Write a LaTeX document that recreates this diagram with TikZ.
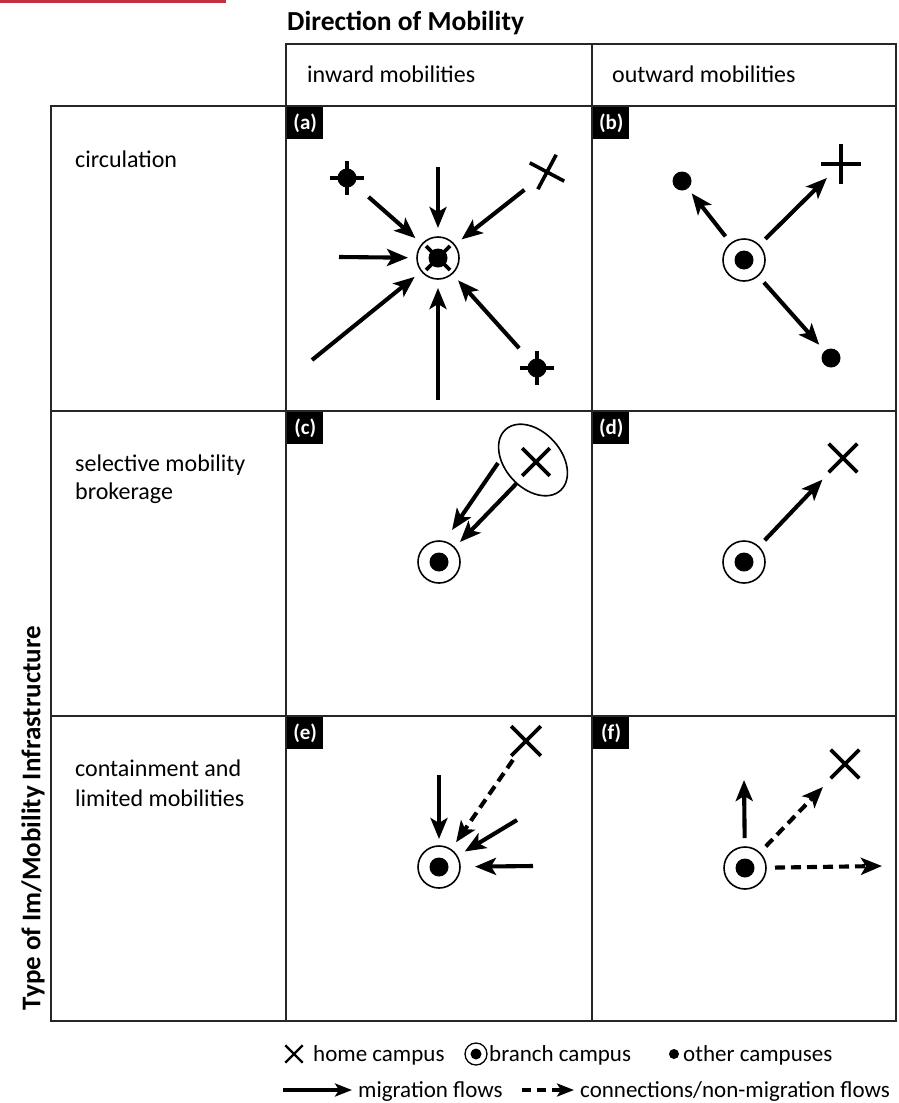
\documentclass[tikz,border=0pt]{standalone}
\usepackage{fontspec}
\setmainfont{Carlito}
\usetikzlibrary{arrows.meta,shapes.geometric,shapes.misc}
\definecolor{banner}{HTML}{C03242}
\newcommand\bodyfont{\fontsize{24}{28}\selectfont}
\newcommand\legfont{\fontsize{23}{26}\selectfont}
\begin{document}
\begin{tikzpicture}[x=1pt,y=-1pt,
  gridline/.style={line width=1.8pt, draw=black!85},
  mig/.style={line width=4.1pt, -{Stealth[length=21pt,width=17pt,inset=5pt]}},
  con/.style={mig, dash pattern=on 10pt off 6pt},
  legmig/.style={line width=3.2pt, -{Stealth[length=17pt,width=13pt,inset=4pt]}},
  legcon/.style={legmig, dash pattern=on 9pt off 6pt},
  branch/.style={circle, draw, line width=1.6pt, minimum size=42pt, inner sep=0pt, outer sep=9pt,
    path picture={\fill (path picture bounding box.center) circle (9.5pt);}},
  smallbranch/.style={circle, draw, line width=1.3pt, minimum size=22pt, inner sep=0pt,
    path picture={\fill (path picture bounding box.center) circle (5.5pt);}},
  dotnode/.style={circle, fill, minimum size=19pt, inner sep=0pt},
  home/.style={cross out, draw, line width=3.6pt, minimum size=25pt, inner sep=0pt},
  arm/.style={line width=3.6pt},
  lab/.style={fill=black, text=white, font=\bfseries\fontsize{21}{22}\selectfont,
    minimum width=36pt, minimum height=32pt, inner sep=0pt, anchor=north west},
  txt/.style={anchor=base west, inner sep=0pt, font=\bodyfont},
  legtxt/.style={anchor=base west, inner sep=0pt, font=\legfont}
]
\useasboundingbox (0,0) rectangle (898,1103);
\fill[banner] (0,0) rectangle (226,3);

% grid
\draw[gridline] (286,44) rectangle (896,106);
\draw[gridline] (592,44) -- (592,1021);
\draw[gridline] (51,106) rectangle (896,1021);
\draw[gridline] (286,106) -- (286,1021);
\draw[gridline] (51,411) -- (896,411);
\draw[gridline] (51,716) -- (896,716);

% headings
\node[anchor=base west, inner sep=0pt, font=\bfseries\fontsize{27.5}{30}\selectfont] (title) at (287,30) {Direction of Mobility};
\node[rotate=90, inner sep=0pt, font=\bfseries\fontsize{27}{30}\selectfont] (ylab) at (33,818) {Type of Im/Mobility Infrastructure};
\node[txt] (hin) at (307,82) {inward mobilities};
\node[txt] (hout) at (612,82) {outward mobilities};

\node[txt] (r1) at (75,167) {circulation};
\node[txt] (r2a) at (75,471) {selective mobility};
\node[txt] (r2b) at (75,499) {brokerage};
\node[txt] (r3a) at (75,776) {containment and};
\node[txt] (r3b) at (75,806) {limited mobilities};

% panel labels
\node[lab] (la) at (287,107) {(a)};
\node[lab] (lb) at (593,107) {(b)};
\node[lab] (lc) at (287,412) {(c)};
\node[lab] (ld) at (593,412) {(d)};
\node[lab] (le) at (287,717) {(e)};
\node[lab] (lf) at (593,717) {(f)};

% (a)
\node[branch] (A0) at (438,258) {};
\draw[arm] ([shift={(-12pt,-12pt)}]A0.center) -- ([shift={(12pt,12pt)}]A0.center);
\draw[arm] ([shift={(-12pt,12pt)}]A0.center) -- ([shift={(12pt,-12pt)}]A0.center);
\node[dotnode] (a1) at (347,178) {};
\draw[arm] ([xshift=-17pt]a1.center) -- ([xshift=17pt]a1.center);
\draw[arm] ([yshift=-17pt]a1.center) -- ([yshift=17pt]a1.center);
\node[home, minimum size=24pt, rotate=17] (a2) at (547,172) {};
\node[dotnode] (a3) at (537,368) {};
\draw[arm] ([xshift=-17pt]a3.center) -- ([xshift=17pt]a3.center);
\draw[arm] ([yshift=-17pt]a3.center) -- ([yshift=17pt]a3.center);
\coordinate (at) at (438,167);
\coordinate (al) at (339,257);
\coordinate (all) at (312,360);
\coordinate (ab) at (438,400);
\draw[mig] (at) -- (A0);
\draw[mig] (al) -- (A0);
\draw[mig] (all) -- (A0);
\draw[mig] (ab) -- (A0);
\draw[mig, shorten <=19pt] (a1) -- (A0);
\draw[mig, shorten <=14pt] (a2) -- (A0);
\draw[mig, shorten <=17pt] (a3) -- (A0);

% (b)
\node[branch] (B0) at (744,260) {};
\node[dotnode] (b1) at (682,181) {};
\node[home, minimum size=24pt, rotate=45] (b2) at (841,164) {};
\node[dotnode] (b3) at (831,358) {};
\draw[mig, shorten >=6pt] (B0) -- (b1);
\draw[mig, shorten >=6pt] (B0) -- (b2);
\draw[mig, shorten >=8pt] (B0) -- (b3);

% (c)
\node[branch] (C0) at (439,562) {};
\node[draw, ellipse, line width=1.6pt, minimum width=82pt, minimum height=56pt, inner sep=0pt, rotate=-48] (ell) at (533,460) {};
\node[home, minimum size=24pt] (c1) at (536,462) {};
\coordinate (c1a) at (498,463);
\coordinate (c1b) at (452,530);
\coordinate (c2a) at (517,483);
\coordinate (c2b) at (460,542);
\draw[mig] (c1a) -- (c1b);
\draw[mig] (c2a) -- (c2b);

% (d)
\node[branch] (D0) at (744,562) {};
\node[home] (d1) at (843,458) {};
\draw[mig, shorten >=10pt] (D0) -- (d1);

% (e)
\node[branch] (E0) at (439,867) {};
\node[home, minimum size=26pt] (e1) at (526,741) {};
\coordinate (et) at (439,775);
\coordinate (ed) at (517,820);
\coordinate (er) at (533,866);
\draw[con, shorten <=5pt] (e1) -- (E0);
\draw[mig, shorten >=-2pt] (et) -- (E0);
\draw[mig] (ed) -- (E0);
\draw[mig, shorten >=6pt] (er) -- (E0);

% (f)
\node[branch] (F0) at (745,868) {};
\node[home] (f1) at (845,764) {};
\coordinate (fu) at (744,780);
\coordinate (fr) at (882,866);
\draw[mig] (F0) -- (fu);
\draw[con, shorten >=12pt] (F0) -- (f1);
\draw[con] (F0) -- (fr);

% legend
\node[home, minimum size=15pt, line width=2.4pt] (kx) at (294,1054) {};
\node[legtxt] (kxt) at (313,1061) {home campus};
\node[smallbranch] (kb) at (476,1054) {};
\node[legtxt] (kbt) at (489,1061) {branch campus};
\node[dotnode, minimum size=10pt] (kd) at (674,1054) {};
\node[legtxt] (kdt) at (683,1061) {other campuses};
\coordinate (km1) at (283,1090);
\coordinate (km2) at (352,1090);
\draw[legmig] (km1) -- (km2);
\node[legtxt] (kmt) at (358,1097) {migration flows};
\coordinate (kc1) at (522,1090);
\coordinate (kc2) at (574,1090);
\draw[legcon] (kc1) -- (kc2);
\node[legtxt] (kct) at (580,1097) {connections/non-migration flows};
\end{tikzpicture}
\end{document}
